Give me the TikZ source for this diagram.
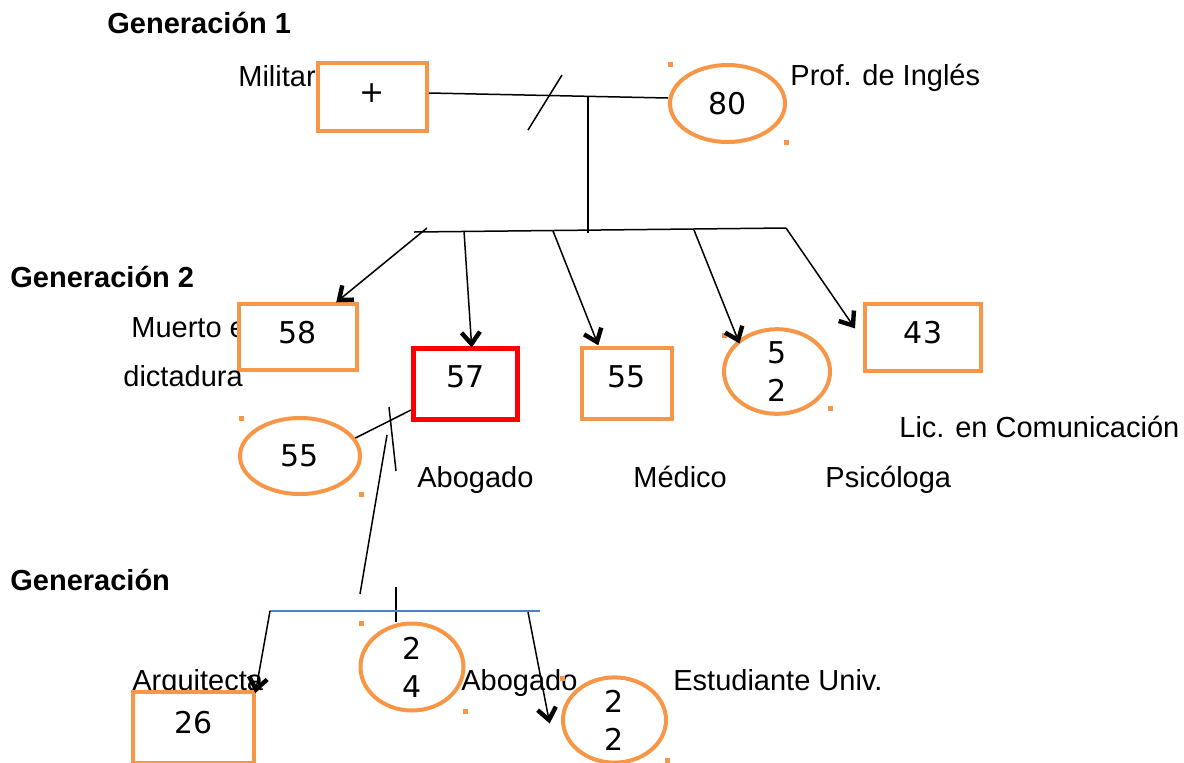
\documentclass[tikz,border=0pt]{standalone}
\usepackage{fontspec}
\setmainfont{Liberation Sans}
\newfontfamily\cifras{DejaVu Sans}
\usetikzlibrary{shapes.geometric,calc}

\definecolor{naranja}{HTML}{F79646}
\definecolor{rojo}{HTML}{FF0000}
\definecolor{azul}{HTML}{4F81BD}

\newcommand{\alzar}[2]{\raisebox{#1}[\height][\depth]{#2}}

\tikzset{
  caja/.style={draw=naranja,line width=2pt,fill=white,inner sep=0pt,font=\cifras\fontsize{15}{19}\selectfont},
  ovalo/.style={ellipse,draw=naranja,line width=2pt,fill=white,inner sep=0pt,align=center,font=\cifras\fontsize{15}{19}\selectfont},
  rotulo/.style={anchor=base west,inner sep=0pt,font=\fontsize{14.5}{17}\selectfont},
  titulo/.style={anchor=base west,inner sep=0pt,font=\bfseries\fontsize{14.5}{17}\selectfont},
  linea/.style={line width=0.75pt},
  punta/.style={line width=2.2pt,line join=miter}
}

\begin{document}
\begin{tikzpicture}[x=0.5pt,y=-0.5pt]
\useasboundingbox (0,0) rectangle (1184,762);

% generaciones
\node[titulo] (gen1) at (107,33) {Generación 1};
\node[titulo] (gen2) at (10,287) {Generación 2};
\node[titulo] (gen3) at (10,590) {Generación};

% ocupaciones
\node[rotulo] (militar) at (238,86) {Militar};
\node[rotulo] (ingles) at (790,85) {Prof. de Inglés};
\node[rotulo] (muerto) at (131,337) {Muerto en};
\node[rotulo] (comunicacion) at (899,437) {Lic. en Comunicación};
\node[rotulo] (abogado1) at (417,487) {Abogado};
\node[rotulo] (medico) at (633,487) {Médico};
\node[rotulo] (psicologa) at (825,487) {Psicóloga};
\node[rotulo] (arquitecta) at (132,690) {Arquitecta};
\node[rotulo] (estudiante) at (673,690) {Estudiante Univ.};

% generacion 1
\node[caja,minimum width=54.5pt,minimum height=34pt] (padre) at (372.5,97) {\alzar{2pt}{+}};
\node[ovalo,minimum width=57.5pt,minimum height=38.5pt] (madre) at (727.5,103.5) {80};

% generacion 2
\node[caja,minimum width=59pt,minimum height=33pt] (hijo1) at (298,337) {\alzar{2pt}{58}\hspace{19pt}};
\node[rotulo] (dictadura) at (123,386) {dictadura};
\node[caja,draw=rojo,line width=2.5pt,minimum width=52pt,minimum height=35.5pt] (hijo2) at (465.5,384) {\alzar{3.5pt}{57}};
\node[caja,minimum width=45pt,minimum height=35.5pt] (hijo3) at (627,383.5) {\alzar{3.25pt}{55}};
\node[ovalo,minimum width=53pt,minimum height=36.5pt] (hijo4) at (777,371.5) {5\\2};
\node[caja,minimum width=58pt,minimum height=33.5pt] (hijo5) at (923,337.5) {\alzar{2.25pt}{43}};
\node[ovalo,minimum width=60pt,minimum height=38pt] (conyuge) at (300,456) {55};

% generacion 3
\node[caja,minimum width=60.5pt,minimum height=35.5pt] (nieto1) at (193.5,727) {\alzar{2pt}{26}};
\node[ovalo,minimum width=51.5pt,minimum height=43.5pt] (nieto2) at (412,667) {2\\4};
\node[rotulo] (abogado2) at (461,690) {Abogado};
\node[ovalo,minimum width=51.5pt,minimum height=41pt] (nieto3) at (614.5,720) {2\\2};

% marcas de seleccion
\foreach \x/\y in {670/64,786/142,724/335,830/408,241/418,361/494,361/623,465/711,562/678,667/760}
  \fill[naranja] (\x-2.5,\y-2.5) rectangle (\x+2.5,\y+2.5);

% pareja 1 y sus hijos
\draw[linea] ([yshift=2pt]padre.east) -- ([yshift=2.75pt]madre.west);
\draw[linea] (528,130) -- (562,75);
\coordinate (union1) at (588,97);
\coordinate (hermanos) at (588,233);
\draw[linea] (union1) -- (hermanos);
\coordinate (ini) at (414,232);
\coordinate (fin) at (786,228);
\draw[linea] (ini) -- (fin);
\coordinate (s1) at (427,228);
\coordinate (s2) at (464,231);
\coordinate (s3) at (553,231);
\coordinate (s4) at (694,230);
\coordinate (e1) at ([xshift=-10pt,yshift=1pt]hijo1.north east);
\coordinate (e2) at ([xshift=3pt,yshift=1pt]hijo2.north);
\coordinate (e3) at ([xshift=8.5pt,yshift=2pt]hijo3.north west);
\coordinate (e4) at (hijo4.north west);
\coordinate (e5) at ([xshift=-5pt,yshift=6pt]hijo5.west);

% pareja 2 y sus hijos
\draw[linea] (conyuge.18) -- ([yshift=6pt]hijo2.south west);
\draw[linea] (389,407) -- (396,471);
\coordinate (union2) at (387,435);
\coordinate (bajada) at (360,594);
\draw[linea] (union2) -- (bajada);
\coordinate (t1) at (396,587);
\coordinate (t2) at (396,622);
\draw[linea] (t1) -- (t2);
\coordinate (nini) at (270,611);
\coordinate (nfin) at (540,611);
\draw[azul,linea] (nini) -- (nfin);
\coordinate (n3) at (528,612);
\coordinate (e6) at (nieto1.north east);
\coordinate (e7) at ([xshift=-6pt]nieto3.west);

% flechas hacia los hijos
\foreach \a/\b in {s1/e1,s2/e2,s3/e3,s4/e4,fin/e5,nini/e6,n3/e7}{
  \draw[linea] (\a) -- (\b);
  \draw[punta] ($(\b)!7.5pt!38:(\a)$) -- (\b) -- ($(\b)!7.5pt!-38:(\a)$);
}
\end{tikzpicture}
\end{document}
